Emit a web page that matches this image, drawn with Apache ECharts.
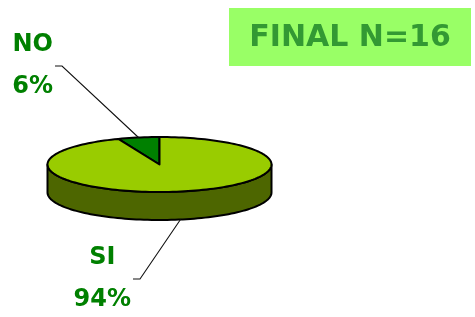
<!DOCTYPE html>
<html><head><meta charset="utf-8">
<script src="https://cdn.jsdelivr.net/npm/echarts@6/dist/echarts.min.js"></script>
<style>html,body{margin:0;padding:0;background:#fff}#c{width:475px;height:317px}</style>
</head><body><div id="c"></div>
<script>
// ---- data ----
const categories = ['NO', 'SI'];
const values = [6, 94];
const titleText = 'FINAL N=16';

// ---- styles / layout ----
const topColors = ['#008000', '#99CC00'];
const sideColors = ['#004000', '#4D6600'];
const labelColor = '#008000';
const FONT = '"DejaVu Sans", sans-serif';
const geo = { cx: 159.5, cy: 164.5, rx: 112, ry: 27.5, depth: 28, start: 90 };
const labelElbow = [{ dx: -76.5, dy: -71.5 }, { dx: -40.5, dy: 59.5 }];
const labelGap = [21, 21];

const total = values.reduce((a, b) => a + b, 0);
function pt(deg, dy) {
  const r = deg * Math.PI / 180;
  return [geo.cx + geo.rx * Math.cos(r), geo.cy - geo.ry * Math.sin(r) + (dy || 0)];
}
function arc(a, b, dy) {
  const pts = [];
  const n = Math.max(2, Math.ceil(Math.abs(b - a) / 2));
  for (let i = 0; i <= n; i++) pts.push(pt(a + (b - a) * i / n, dy));
  return pts;
}
const ctx = document.createElement('canvas').getContext('2d');
function tw(t, size) { ctx.font = 'bold ' + size + 'px DejaVu Sans'; return ctx.measureText(t).width; }

function renderItem(params, api) {
  const i = params.dataIndex;
  let before = 0;
  for (let k = 0; k < i; k++) before += values[k];
  const a = geo.start + before / total * 360;
  const b = geo.start + (before + values[i]) / total * 360;
  const children = [];
  // side faces (front half: 180..360, 540..720)
  [[180, 360], [540, 720]].forEach(([lo, hi]) => {
    const s = Math.max(a, lo), e = Math.min(b, hi);
    if (e > s) {
      const topPts = arc(s, e, 0);
      const botPts = arc(e, s, geo.depth);
      children.push({
        type: 'polygon', shape: { points: topPts.concat(botPts) },
        style: { fill: sideColors[i], stroke: '#000', lineWidth: 2, lineJoin: 'round' }
      });
    }
  });
  // top sector
  children.push({
    type: 'polygon', shape: { points: [[geo.cx, geo.cy]].concat(arc(a, b, 0)) },
    style: { fill: topColors[i], stroke: '#000', lineWidth: 2, lineJoin: 'round' }
  });
  // label
  const m = (a + b) / 2;
  const sinM = Math.sin(m * Math.PI / 180);
  const anchor = sinM >= 0 ? pt(m, 0) : pt(m, geo.depth);
  const el = [anchor[0] + labelElbow[i].dx, anchor[1] + labelElbow[i].dy];
  const end = [el[0] - 7, el[1]];
  children.push({
    type: 'polyline', shape: { points: [anchor, el, end] },
    style: { stroke: '#111', lineWidth: 1.1, fill: null }
  });
  const pct = Math.round(values[i] / total * 100) + '%';
  const fs = 24;
  const w = Math.max(tw(categories[i], fs), tw(pct, fs));
  const tx = end[0] - 2 - w / 2;
  children.push({
    type: 'text', style: { text: categories[i], x: tx, y: el[1] - labelGap[i], align: 'center', verticalAlign: 'middle',
      fill: labelColor, font: 'bold ' + fs + 'px ' + FONT }
  });
  children.push({
    type: 'text', style: { text: pct, x: tx, y: el[1] + labelGap[i], align: 'center', verticalAlign: 'middle',
      fill: labelColor, font: 'bold ' + fs + 'px ' + FONT }
  });
  return { type: 'group', children };
}

const chart = echarts.init(document.getElementById('c'), null, { renderer: 'canvas' });
chart.setOption({
  animation: false,
  graphic: [
    { type: 'rect', shape: { x: 229, y: 8, width: 242, height: 58 }, style: { fill: '#99FF66' } },
    { type: 'text', style: { text: titleText, x: 350, y: 38, align: 'center', verticalAlign: 'middle',
      fill: '#339933', font: 'bold 30px ' + FONT } }
  ],
  series: [{
    type: 'custom', coordinateSystem: 'none',
    data: values.map((v, i) => ({ name: categories[i], value: v })),
    renderItem
  }]
});
</script></body></html>
